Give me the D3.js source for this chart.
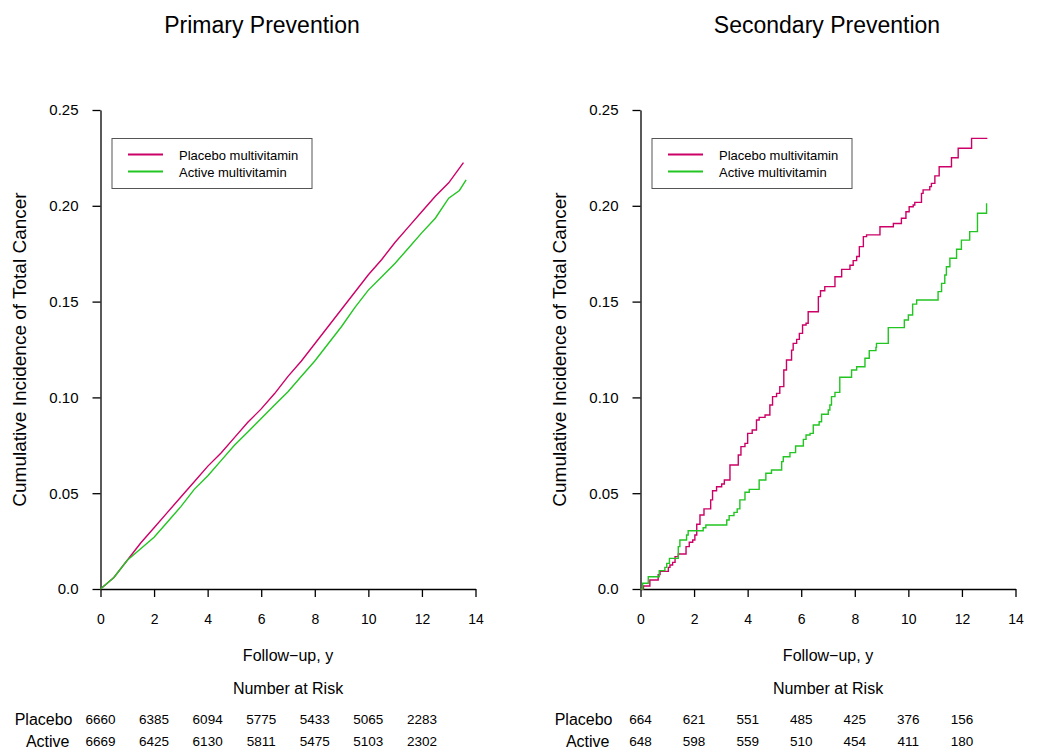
<!DOCTYPE html>
<html><head><meta charset="utf-8">
<script src="https://cdn.jsdelivr.net/npm/d3@7"></script>
<style>
body{margin:0;background:#fff;}
text{font-family:"Liberation Sans",Arial,Helvetica,sans-serif;fill:#000;}
</style>
</head><body>
<svg id="chart" width="1050" height="756"></svg>
<script>
// ---------- data ----------
const panelTitles = ["Primary Prevention", "Secondary Prevention"];
const seriesNames = ["Placebo multivitamin", "Active multivitamin"];
const riskRowLabels = ["Placebo", "Active"];
const yTicks = [0, 0.05, 0.10, 0.15, 0.20, 0.25];
const yTickLabels = ["0.0", "0.05", "0.10", "0.15", "0.20", "0.25"];
const xTicks = [0, 2, 4, 6, 8, 10, 12, 14];
const riskTimes = [0, 2, 4, 6, 8, 10, 12];

const primaryRiskPlacebo = [6660, 6385, 6094, 5775, 5433, 5065, 2283];
const primaryRiskActive  = [6669, 6425, 6130, 5811, 5475, 5103, 2302];
const secondaryRiskPlacebo = [664, 621, 551, 485, 425, 376, 156];
const secondaryRiskActive  = [648, 598, 559, 510, 454, 411, 180];

// primary prevention cumulative incidence
const primPlaceboTime = [0,0.5,1,1.5,2,2.5,3,3.5,4,4.5,5,5.5,6,6.5,7,7.5,8,8.5,9,9.5,10,10.5,11,11.5,12,12.5,13,13.55];
const primPlaceboCum  = [0,0.006,0.015,0.024,0.032,0.040,0.048,0.056,0.064,0.071,0.079,0.087,0.094,0.102,0.111,0.119,0.128,0.137,0.146,0.155,0.164,0.172,0.181,0.189,0.197,0.205,0.212,0.2225];
const primActiveTime  = [0,0.5,1,1.5,2,2.5,3,3.5,4,4.5,5,5.5,6,6.5,7,7.5,8,8.5,9,9.5,10,10.5,11,11.5,12,12.5,13,13.4,13.65];
const primActiveCum   = [0,0.006,0.015,0.021,0.027,0.035,0.043,0.052,0.059,0.067,0.075,0.082,0.089,0.096,0.103,0.111,0.119,0.128,0.137,0.147,0.156,0.163,0.170,0.178,0.186,0.1935,0.204,0.208,0.2135];

// secondary prevention cumulative incidence (step events)
const secPlaceboTime = [0,0.11,0.35,0.66,0.73,1.04,1.10,1.20,1.29,1.41,1.70,1.82,1.95,2.03,2.10,2.22,2.37,2.62,2.69,2.84,3.03,3.13,3.34,3.65,3.75,3.90,4.00,4.17,4.33,4.43,4.65,4.83,4.93,5.08,5.20,5.35,5.45,5.64,5.70,5.83,5.93,6.05,6.18,6.26,6.64,6.72,6.88,7.26,7.51,7.82,7.94,8.07,8.17,8.32,8.44,8.94,9.44,9.74,9.91,10.03,10.18,10.24,10.49,10.55,10.80,10.86,10.99,11.15,11.61,11.86,12.36,12.95];
const secPlaceboCum  = [0,0.0016,0.0047,0.0075,0.0092,0.0113,0.0125,0.0139,0.0169,0.0183,0.0221,0.0244,0.0256,0.0282,0.0338,0.0386,0.0418,0.0465,0.0513,0.0534,0.0548,0.0569,0.0647,0.0699,0.0743,0.0760,0.0812,0.0830,0.0882,0.0896,0.0908,0.0960,0.1004,0.1021,0.1056,0.1143,0.1195,0.1247,0.1282,0.1303,0.1334,0.1378,0.1387,0.1447,0.1526,0.1557,0.1578,0.1630,0.1668,0.1690,0.1714,0.1735,0.1787,0.1839,0.1848,0.1891,0.1908,0.1935,0.1969,0.1995,0.2004,0.2018,0.2065,0.2083,0.2100,0.2117,0.2156,0.2204,0.2251,0.2300,0.2352,0.2352];
const secActiveTime  = [0,0.08,0.29,0.70,0.91,0.98,1.08,1.41,1.47,1.72,1.78,2.34,2.44,3.22,3.31,3.49,3.61,3.71,3.90,4.06,4.43,4.68,4.89,5.27,5.33,5.58,5.79,6.08,6.18,6.33,6.45,6.67,6.76,7.01,7.07,7.13,7.26,7.44,7.88,8.07,8.38,8.54,8.79,8.81,9.25,9.85,10.00,10.16,10.31,11.11,11.24,11.36,11.42,11.55,11.80,11.98,12.29,12.58,12.92];
const secActiveCum   = [0,0.0030,0.0064,0.0096,0.0113,0.0134,0.0160,0.0221,0.0256,0.0282,0.0304,0.0320,0.0334,0.0360,0.0383,0.0400,0.0418,0.0465,0.0505,0.0520,0.0569,0.0604,0.0621,0.0665,0.0690,0.0712,0.0746,0.0781,0.0804,0.0812,0.0856,0.0873,0.0912,0.0934,0.0960,0.1004,0.1026,0.1105,0.1143,0.1160,0.1204,0.1244,0.1261,0.1282,0.1364,0.1404,0.1430,0.1487,0.1508,0.1552,0.1595,0.1639,0.1682,0.1726,0.1773,0.1821,0.1865,0.1961,0.2013];

const colors = ["#cc0066", "#22c522"];

// ---------- drawing ----------
const svg = d3.select("#chart");
const zip = (t, v) => t.map((d, i) => ({t: d, v: v[i]}));

const panels = [
  {title: panelTitles[0], titleX: 262, left: 100.5,
   series: [zip(primPlaceboTime, primPlaceboCum), zip(primActiveTime, primActiveCum)],
   curve: d3.curveLinear, risk: [primaryRiskPlacebo, primaryRiskActive]},
  {title: panelTitles[1], titleX: 827, left: 640.5,
   series: [zip(secPlaceboTime, secPlaceboCum), zip(secActiveTime, secActiveCum)],
   curve: d3.curveStepAfter, risk: [secondaryRiskPlacebo, secondaryRiskActive]}
];

panels.forEach(p => {
  const x = d3.scaleLinear().domain([0, 14]).range([p.left, p.left + 375]);
  const y = d3.scaleLinear().domain([0, 0.25]).range([589, 110]);
  const g = svg.append("g");
  const cx = (x.range()[0] + x.range()[1]) / 2;

  g.append("text").attr("x", p.titleX).attr("y", 33).attr("text-anchor", "middle")
    .style("font-size", "23px").text(p.title);

  // axes
  const ya = g.append("g").attr("transform", `translate(${p.left},0)`)
    .call(d3.axisLeft(y).tickValues(yTicks).tickFormat((d, i) => yTickLabels[i])
      .tickSize(8).tickSizeOuter(0).tickPadding(14));
  const xa = g.append("g").attr("transform", "translate(0,589)")
    .call(d3.axisBottom(x).tickValues(xTicks).tickFormat(d3.format("d"))
      .tickSize(8).tickSizeOuter(0).tickPadding(17));
  [ya, xa].forEach(a => {
    a.selectAll("path,line").attr("stroke", "#000").attr("stroke-width", 1.3);
    a.selectAll("text").style("font-family", '"Liberation Sans",Arial,sans-serif').attr("fill", "#000");
  });
  ya.selectAll("text").style("font-size", "15px");
  xa.selectAll("text").style("font-size", "14px");

  // y label
  g.append("text").attr("transform", `translate(${p.left - 75},${(589 + 110) / 2}) rotate(-90)`)
    .attr("text-anchor", "middle").style("font-size", "19px")
    .text("Cumulative Incidence of Total Cancer");
  // x label
  g.append("text").attr("x", cx).attr("y", 661).attr("text-anchor", "middle")
    .style("font-size", "16px").text("Follow\u2212up, y");

  // curves
  const line = d3.line().x(d => x(d.t)).y(d => y(d.v)).curve(p.curve);
  p.series.forEach((s, i) => {
    g.append("path").datum(s).attr("d", line).attr("fill", "none")
      .attr("stroke", colors[i]).attr("stroke-width", 1.4);
  });

  // legend
  const lx = p.left + 11.5, ly = 138.5;
  g.append("rect").attr("x", lx).attr("y", ly).attr("width", 200).attr("height", 50)
    .attr("fill", "#fff").attr("stroke", "#555").attr("stroke-width", 1);
  seriesNames.forEach((n, i) => {
    const yy = ly + 16 + i * 17;
    g.append("line").attr("x1", lx + 16).attr("x2", lx + 51).attr("y1", yy).attr("y2", yy)
      .attr("stroke", colors[i]).attr("stroke-width", 2);
    g.append("text").attr("x", lx + 67).attr("y", yy + 5).style("font-size", "13px").text(n);
  });

  // number at risk
  g.append("text").attr("x", cx).attr("y", 694).attr("text-anchor", "middle")
    .style("font-size", "16px").text("Number at Risk");
  const rowY = [725, 747];
  const rowEnd = [p.left - 28, p.left - 31];
  p.risk.forEach((row, r) => {
    g.append("text").attr("x", rowEnd[r]).attr("y", rowY[r]).attr("text-anchor", "end")
      .style("font-size", "16px").text(riskRowLabels[r]);
    row.forEach((n, i) => {
      g.append("text").attr("x", x(riskTimes[i])).attr("y", rowY[r] - 1)
        .attr("text-anchor", "middle").style("font-size", "13.5px").text(n);
    });
  });
});
</script>
</body></html>
